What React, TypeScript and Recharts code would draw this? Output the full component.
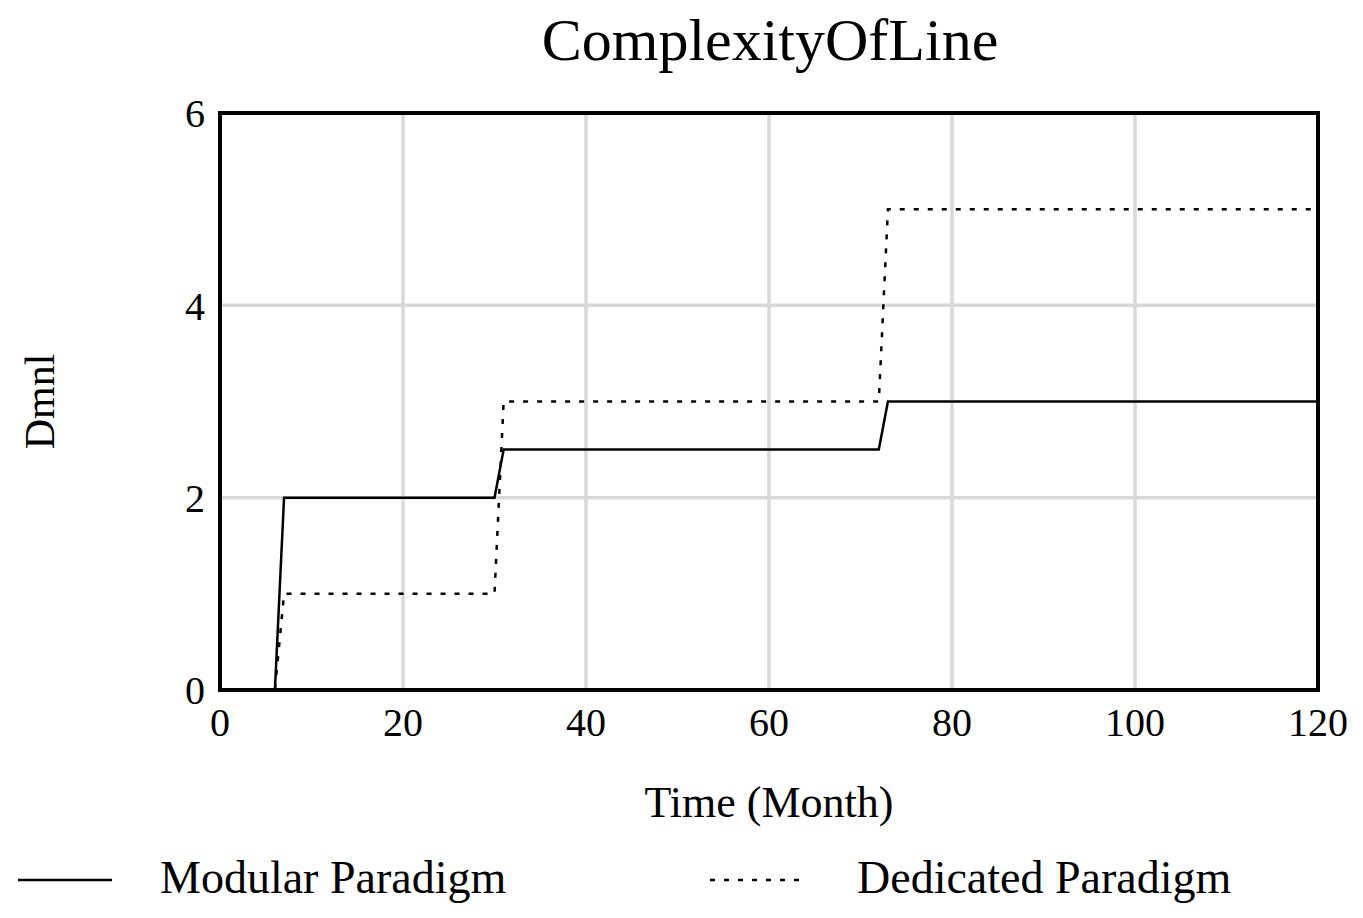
import React from 'react';
import { LineChart, Line, XAxis, YAxis, CartesianGrid, ReferenceArea, Label } from 'recharts';

const time = [0, 6, 7, 30, 31, 72, 73, 120];
const modular = [0, 0, 2, 2, 2.5, 2.5, 3, 3];
const dedicated = [0, 0, 1, 1, 3, 3, 5, 5];
const xTicks = [0, 20, 40, 60, 80, 100, 120];
const yTicks = [0, 2, 4, 6];
const seriesNames = ['Modular Paradigm', 'Dedicated Paradigm'];
const title = 'ComplexityOfLine';
const xLabel = 'Time (Month)';
const yLabel = 'Dmnl';

const data = time.map((t, i) => ({ t, modular: modular[i], dedicated: dedicated[i] }));

const FONT = "'Liberation Serif', 'Times New Roman', serif";
const W = 1355;
const H = 910;

export default function App() {
  return (
    <div style={{ position: 'relative', width: W, height: H, fontFamily: FONT }}>
      <LineChart
        width={W}
        height={H}
        data={data}
        margin={{ top: 105, right: 45, bottom: 168, left: 0 }}
      >
        <CartesianGrid stroke="#d9d9d9" strokeWidth={3.5} vertical horizontal />
        <XAxis
          dataKey="t"
          type="number"
          domain={[0, 120]}
          ticks={xTicks}
          height={60}
          tickLine={false}
          tickSize={0}
          tickMargin={18}
          axisLine={false}
          tick={{ fontSize: 40, fill: '#000', fontFamily: FONT }}
          interval={0}
        >
          <Label
            content={(props: any) => {
              const vb = props.viewBox;
              return (
                <text
                  x={vb.x + vb.width / 2}
                  y={vb.y + 127}
                  textAnchor="middle"
                  fontSize={44}
                  fontFamily={FONT}
                  fill="#000"
                >
                  {xLabel}
                </text>
              );
            }}
          />
        </XAxis>
        <YAxis
          type="number"
          domain={[0, 6]}
          ticks={yTicks}
          width={212}
          tickLine={false}
          tickSize={0}
          tickMargin={15}
          axisLine={false}
          tick={{ fontSize: 40, fill: '#000', fontFamily: FONT }}
          interval={0}
        >
          <Label
            content={(props: any) => {
              const vb = props.viewBox;
              const cx = vb.x + 32;
              const cy = vb.y + vb.height / 2;
              return (
                <text
                  x={cx}
                  y={cy}
                  textAnchor="middle"
                  dominantBaseline="central"
                  fontSize={42}
                  fontFamily={FONT}
                  fill="#000"
                  transform={`rotate(-90, ${cx}, ${cy})`}
                >
                  {yLabel}
                </text>
              );
            }}
          />
        </YAxis>
        <ReferenceArea x1={0} x2={120} y1={0} y2={6} fill="none" stroke="#000" strokeWidth={4} />
        <Line
          type="linear"
          dataKey="dedicated"
          name={seriesNames[1]}
          stroke="#000"
          strokeWidth={2.5}
          strokeDasharray="5 9"
          dot={false}
          activeDot={false}
          isAnimationActive={false}
        />
        <Line
          type="linear"
          dataKey="modular"
          name={seriesNames[0]}
          stroke="#000"
          strokeWidth={2.5}
          dot={false}
          activeDot={false}
          isAnimationActive={false}
        />
      </LineChart>
      <svg style={{ position: 'absolute', left: 0, top: 0 }} width={W} height={80}>
        <text x={762} y={52} textAnchor="middle" fontSize={60} fontFamily={FONT} fill="#000">
          {title}
        </text>
      </svg>
      <svg style={{ position: 'absolute', left: 0, top: 840 }} width={W} height={70}>
        <line x1={10} x2={104} y1={32} y2={32} stroke="#000" strokeWidth={2.5} />
        <text x={152} y={45} fontSize={46} fontFamily={FONT} fill="#000">
          {seriesNames[0]}
        </text>
        <line x1={702} x2={797} y1={32} y2={32} stroke="#000" strokeWidth={2.5} strokeDasharray="5 9" />
        <text x={849} y={45} fontSize={46} fontFamily={FONT} fill="#000">
          {seriesNames[1]}
        </text>
      </svg>
    </div>
  );
}
